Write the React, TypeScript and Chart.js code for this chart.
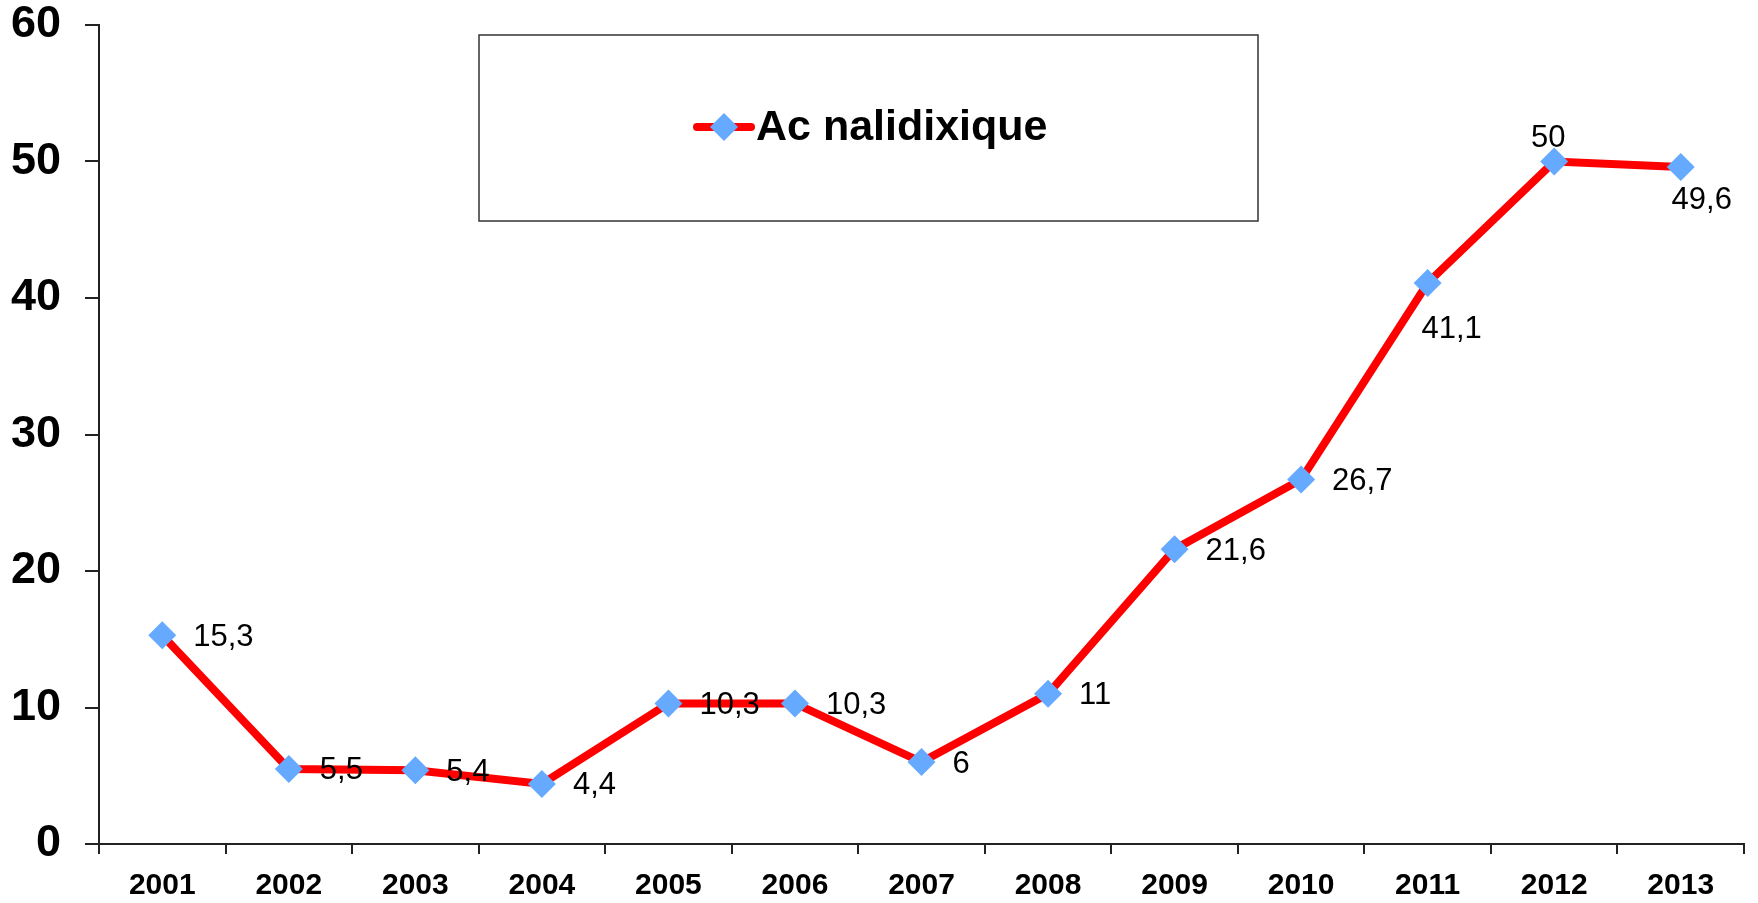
import React, { useEffect, useRef } from "react";
import { Chart, registerables } from "chart.js";

Chart.register(...registerables);

const years = ["2001", "2002", "2003", "2004", "2005", "2006", "2007", "2008", "2009", "2010", "2011", "2012", "2013"];
const values = [15.3, 5.5, 5.4, 4.4, 10.3, 10.3, 6, 11, 21.6, 26.7, 41.1, 50, 49.6];
const labelPlacement = ["right", "right", "right", "right", "right", "right", "right", "right", "right", "right", "belowFar", "above", "below"];
const seriesName = "Ac nalidixique";

const FONT = "'Liberation Sans', Arial, sans-serif";
const RED = "#ff0000";
const BLUE = "#66aaff";

const dataLabelPlugin = {
  id: "dataLabels",
  afterDatasetsDraw(chart: any) {
    const ctx = chart.ctx;
    const meta = chart.getDatasetMeta(0);
    ctx.save();
    ctx.font = `31px ${FONT}`;
    ctx.fillStyle = "#000";
    meta.data.forEach((pt: any, i: number) => {
      const txt = String(values[i]).replace(".", ",");
      const place = labelPlacement[i];
      if (place === "right") {
        ctx.textAlign = "left";
        ctx.textBaseline = "middle";
        ctx.fillText(txt, pt.x + 31, pt.y + 2);
      } else if (place === "above") {
        ctx.textAlign = "center";
        ctx.textBaseline = "bottom";
        ctx.fillText(txt, pt.x - 6, pt.y - 8);
      } else if (place === "belowFar") {
        ctx.textAlign = "center";
        ctx.textBaseline = "top";
        ctx.fillText(txt, pt.x + 24, pt.y + 31);
      } else {
        ctx.textAlign = "center";
        ctx.textBaseline = "top";
        ctx.fillText(txt, pt.x + 21, pt.y + 18);
      }
    });
    ctx.restore();
  },
};

const legendBoxPlugin = {
  id: "legendBox",
  afterDraw(chart: any) {
    const ctx = chart.ctx;
    const area = chart.chartArea;
    const left = area.left + 380;
    const top = area.top + 10;
    const w = 779;
    const h = 186;
    ctx.save();
    ctx.fillStyle = "#fff";
    ctx.fillRect(left, top, w, h);
    ctx.strokeStyle = "#333";
    ctx.lineWidth = 1.5;
    ctx.strokeRect(left, top, w, h);
    const cy = top + 92;
    const lx = left + 218;
    ctx.strokeStyle = RED;
    ctx.lineWidth = 8;
    ctx.lineCap = "round";
    ctx.beginPath();
    ctx.moveTo(lx, cy);
    ctx.lineTo(lx + 54, cy);
    ctx.stroke();
    ctx.fillStyle = BLUE;
    const r = 14;
    const mx = lx + 27;
    ctx.beginPath();
    ctx.moveTo(mx, cy - r);
    ctx.lineTo(mx + r, cy);
    ctx.lineTo(mx, cy + r);
    ctx.lineTo(mx - r, cy);
    ctx.closePath();
    ctx.fill();
    ctx.fillStyle = "#000";
    ctx.font = `bold 43px ${FONT}`;
    ctx.textAlign = "left";
    ctx.textBaseline = "middle";
    ctx.fillText(seriesName, lx + 59, cy + 1);
    ctx.restore();
  },
};

export default function App() {
  const ref = useRef<HTMLCanvasElement | null>(null);
  useEffect(() => {
    document.body.style.margin = "0";
    const canvas = ref.current!;
    const chart = new Chart(canvas, {
      type: "line",
      data: {
        labels: years,
        datasets: [
          {
            label: seriesName,
            data: values,
            borderColor: RED,
            borderWidth: 8,
            pointStyle: "rectRot",
            pointRadius: 14,
            pointHoverRadius: 14,
            pointBackgroundColor: BLUE,
            pointBorderWidth: 0,
            pointBorderColor: BLUE,
            tension: 0,
          },
        ],
      },
      options: {
        animation: false,
        responsive: false,
        maintainAspectRatio: false,
        layout: { padding: { top: 25, right: 14, left: 0, bottom: 0 } },
        plugins: {
          legend: { display: false },
          tooltip: { enabled: false },
        },
        scales: {
          x: {
            offset: true,
            grid: {
              offset: true,
              drawOnChartArea: false,
              drawTicks: true,
              tickLength: 10,
              color: "#222",
              lineWidth: 2,
            },
            border: { color: "#222", width: 2 },
            ticks: {
              color: "#000",
              font: { family: FONT, size: 30, weight: "bold" },
              padding: 14,
              maxRotation: 0,
              autoSkip: false,
            },
            afterFit: (s: any) => {
              s.height = 59;
            },
          },
          y: {
            min: 0,
            max: 60,
            ticks: {
              stepSize: 10,
              color: "#000",
              font: { family: FONT, size: 45, weight: "bold" },
              padding: 24,
            },
            grid: {
              drawOnChartArea: false,
              drawTicks: true,
              tickLength: 14,
              color: "#222",
              lineWidth: 2,
            },
            border: { color: "#222", width: 2 },
            afterFit: (s: any) => {
              s.width = 99;
              s.paddingTop = 0;
              s.paddingBottom = 0;
            },
          },
        },
      },
      plugins: [dataLabelPlugin, legendBoxPlugin],
    });
    return () => chart.destroy();
  }, []);
  return (
    <div style={{ width: 1758, height: 903, background: "#fff" }}>
      <canvas ref={ref} width={1758} height={903} style={{ display: "block", width: 1758, height: 903 }} />
    </div>
  );
}
